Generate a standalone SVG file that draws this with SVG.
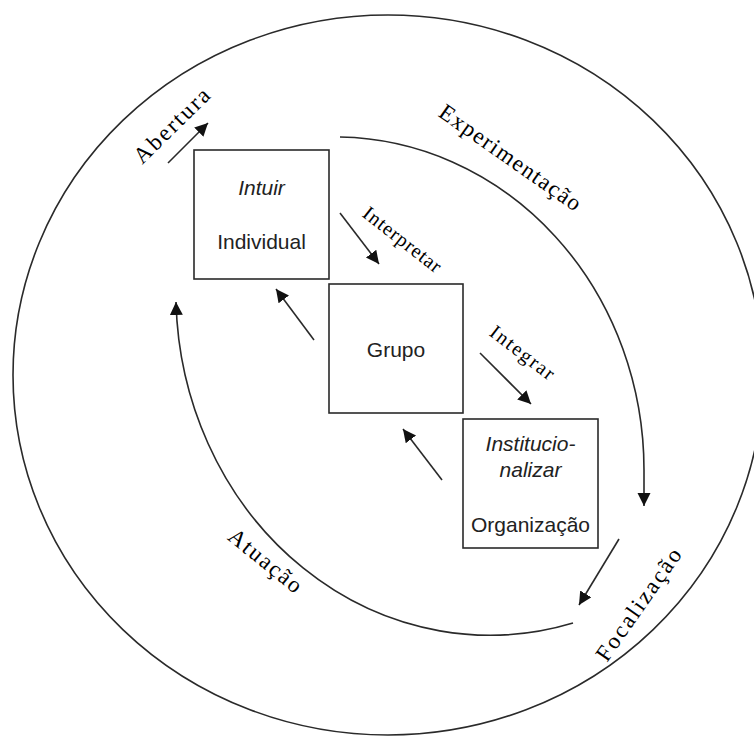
<svg xmlns="http://www.w3.org/2000/svg" width="754" height="736" viewBox="0 0 754 736">
<style>
.ln{fill:none;stroke:#2a2a2a;stroke-width:1.6}
.box{fill:#fff;stroke:#2a2a2a;stroke-width:1.6}
.bt{font-family:"Liberation Sans",Arial,sans-serif;font-size:21px;fill:#222;text-anchor:middle}
.it{font-style:italic}
.lb{font-family:"Liberation Serif","Times New Roman",serif;font-size:23px;fill:#000;text-anchor:middle}
.sm{font-size:20px}
</style>
<defs>
<marker id="ah" markerUnits="userSpaceOnUse" markerWidth="14" markerHeight="14" refX="13" refY="6.5" orient="auto">
<path d="M0,0 L13,6.5 L0,13 z" fill="#111"/>
</marker>
</defs>
<rect width="754" height="736" fill="#fff"/>
<ellipse id="outer" cx="388" cy="375" rx="375" ry="360" class="ln"/>
<g id="connectors">
<path class="ln" d="M340,137 A309,333 0 0 1 644,470 L644,506" marker-end="url(#ah)"/>
<path class="ln" d="M573,623 A314,343 0 0 1 176,302" marker-end="url(#ah)"/>
<line class="ln" x1="168" y1="163" x2="208" y2="123" marker-end="url(#ah)"/>
<line class="ln" x1="340" y1="213" x2="379" y2="264" marker-end="url(#ah)"/>
<line class="ln" x1="480" y1="353" x2="531" y2="404" marker-end="url(#ah)"/>
<line class="ln" x1="442" y1="480" x2="403" y2="429" marker-end="url(#ah)"/>
<line class="ln" x1="314" y1="340" x2="276" y2="289" marker-end="url(#ah)"/>
<line class="ln" x1="619" y1="539" x2="579" y2="605" marker-end="url(#ah)"/>
</g>
<g id="individual">
<rect class="box" x="194" y="150" width="135" height="129"/>
<text class="bt it" x="261.5" y="195">Intuir</text>
<text class="bt" x="261.5" y="249">Individual</text>
</g>
<g id="grupo">
<rect class="box" x="329" y="284" width="134" height="129"/>
<text class="bt" x="396" y="357">Grupo</text>
</g>
<g id="organizacao">
<rect class="box" x="463" y="419" width="135" height="129"/>
<text class="bt it" x="530.5" y="451">Institucio-</text>
<text class="bt it" x="530.5" y="477">nalizar</text>
<text class="bt" x="530.5" y="532">Organização</text>
</g>
<g id="labels">
<text class="lb" transform="translate(172,126) rotate(-44.5)" x="0" y="7" textLength="97" lengthAdjust="spacing">Abertura</text>
<text class="lb" transform="translate(510,158) rotate(35)" x="0" y="7" textLength="168" lengthAdjust="spacing">Experimentação</text>
<text class="lb sm" transform="translate(402,240) rotate(38)" x="0" y="6" textLength="94" lengthAdjust="spacing">Interpretar</text>
<text class="lb sm" transform="translate(522,353) rotate(37.5)" x="0" y="6" textLength="76" lengthAdjust="spacing">Integrar</text>
<text class="lb" transform="translate(265,561) rotate(39)" x="0" y="7" textLength="88" lengthAdjust="spacing">Atuação</text>
<text class="lb" transform="translate(639,605) rotate(-55)" x="0" y="7" textLength="132" lengthAdjust="spacing">Focalização</text>
</g>
</svg>
